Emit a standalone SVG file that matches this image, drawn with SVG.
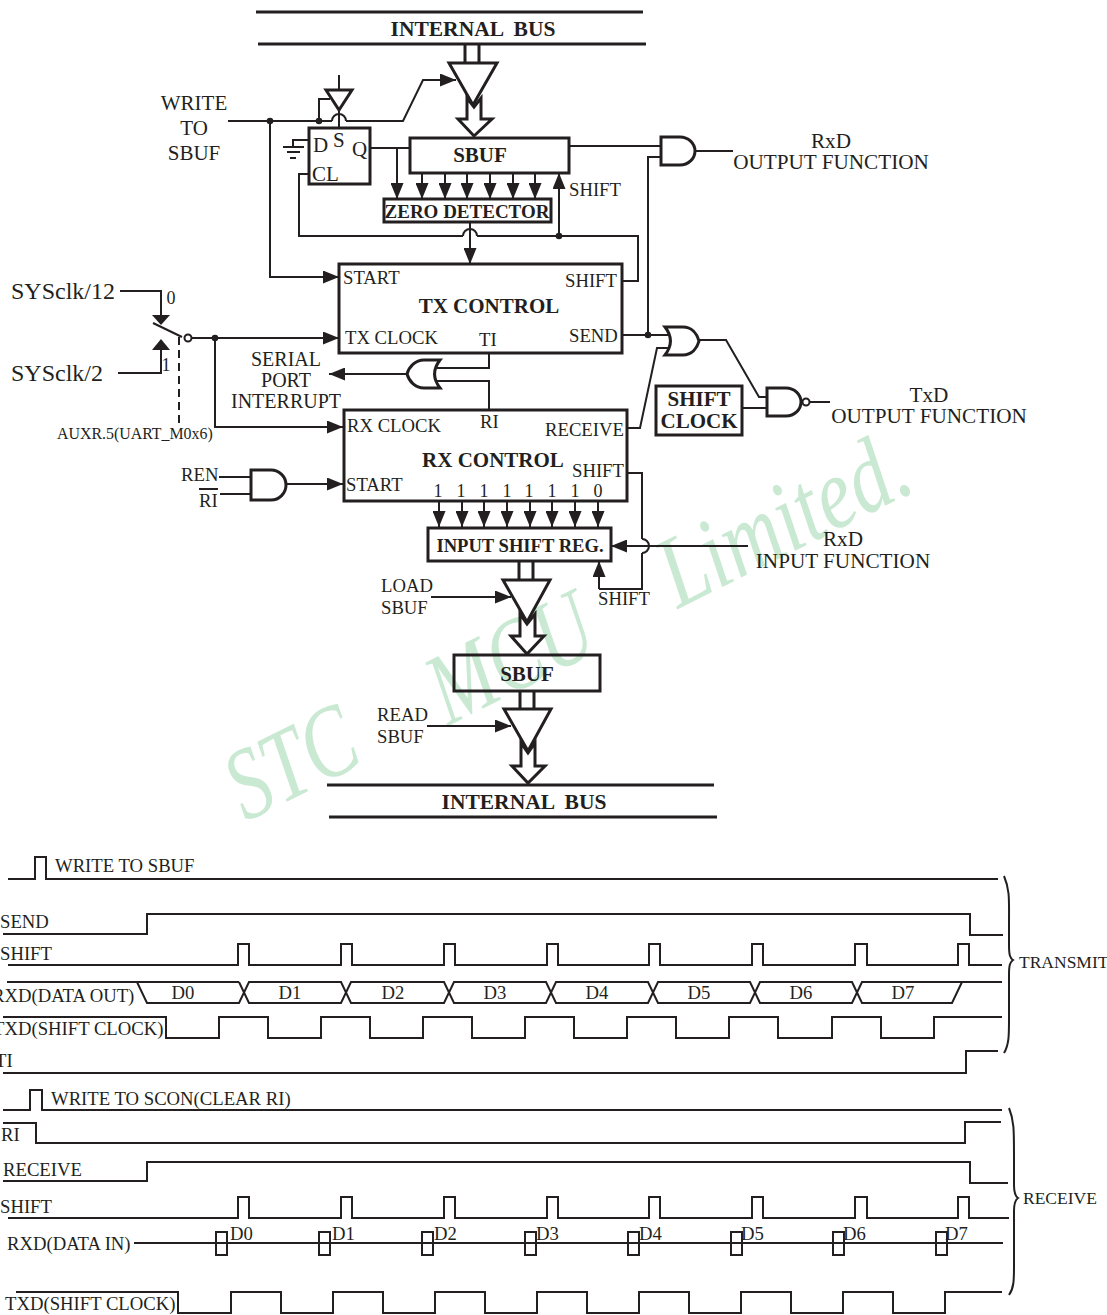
<svg xmlns="http://www.w3.org/2000/svg" width="1107" height="1315" viewBox="0 0 1107 1315">
<defs>
<marker id="a" markerUnits="userSpaceOnUse" markerWidth="17" markerHeight="13" refX="16" refY="6.5" orient="auto"><path d="M0 0L16 6.5L0 13Z" fill="#231f20"/></marker>
</defs>
<style>
text{font-family:"Liberation Serif","Times New Roman",serif;fill:#231f20;font-size:18.7px}
.b{font-weight:bold}
.m{text-anchor:middle}
.w{fill:none;stroke:#231f20;stroke-width:2}
.h{fill:none;stroke:#231f20;stroke-width:3}
.s{fill:#fff;stroke:#231f20;stroke-width:3}
.a{marker-end:url(#a)}
.d{fill:#231f20}
.wm{font-size:102px;font-style:italic;fill:#c9e9d2}
.n{font-size:18px}
.l{font-size:21.2px}
.bl{font-weight:bold;font-size:21px}
</style>
<rect width="1107" height="1315" fill="#fff"/>
<g id="watermark">
<text class="wm" transform="translate(246 822) rotate(-26.5)" textLength="134" lengthAdjust="spacingAndGlyphs">STC</text>
<text class="wm" transform="translate(448 726) rotate(-26.5)" textLength="172" lengthAdjust="spacingAndGlyphs">MCU</text>
<text class="wm" transform="translate(678 609) rotate(-26.5)" textLength="268" lengthAdjust="spacingAndGlyphs">Limited.</text>
</g>

<g id="connectors">
<path class="w" d="M228 121H332M346 121H403L423 80H433"/>
<path class="w a" d="M423 80H456"/>
<path class="w" d="M332 121A7 7 0 0 1 346 121"/>
<path class="w a" d="M270 121V277H339"/>
<path class="w" d="M319 121V99H330M339 75V89M339 110V128"/>
<path class="w" d="M309 140H293V147M283 147H304M287 152H300M290 158H296"/>
<path class="w" d="M370 148H410"/>
<path class="w a" d="M397 148V199"/>
<path class="w a" d="M422 173V199"/><path class="w a" d="M445 173V199"/><path class="w a" d="M467 173V199"/><path class="w a" d="M490 173V199"/><path class="w a" d="M513 173V199"/><path class="w a" d="M535 173V199"/>
<path class="w a" d="M559 236V173"/>
<path class="w" d="M309 174H299V236H463M477 236H638V281H622M463 236A7 7 0 0 1 477 236"/>
<path class="w a" d="M470 222V264"/>
<path class="w" d="M569 146H661M648 335V157H661M696 151H733"/>
<path class="w" d="M622 335H668M668 348H657L640 428H627M699 340H726L759 397H767M742 408H767M810 402H830"/>
<path class="w" d="M120 291H161V316"/>
<path class="d" d="M152 315H170L161 325Z"/>
<path class="w" d="M118 373H161V348"/>
<path class="d" d="M152 350H170L161 339Z"/>
<path class="w" d="M153 323L182 337"/>
<path class="w" d="M179 337V425" stroke-dasharray="8 5"/>
<path class="w a" d="M192 338H339"/>
<path class="w a" d="M215 338V427H343"/>
<path class="w" d="M489 353V368H437M489 410V381H437"/>
<path class="w a" d="M407 374H329"/>
<path class="w" d="M219 477H251M220 494H251M199 489H218"/>
<path class="w a" d="M286 484H343"/>
<path class="w a" d="M439 501V527"/><path class="w a" d="M462 501V527"/><path class="w a" d="M484 501V527"/><path class="w a" d="M507 501V527"/><path class="w a" d="M530 501V527"/><path class="w a" d="M552 501V527"/><path class="w a" d="M575 501V527"/><path class="w a" d="M598 501V527"/>
<path class="w" d="M627 473H642V539M642 553V589H599"/>
<path class="w" d="M642 539A7 7 0 0 1 642 553"/>
<path class="w a" d="M599 589V561"/>
<path class="w a" d="M748 546H611"/>
<path class="w a" d="M431 597H511"/>
<path class="w a" d="M427 726H511"/>
</g>

<g id="bus-top"><path class="h" d="M256 12H643M258 44H646"/><text class="b m" x="473" y="36" style="font-size:21.5px;white-space:pre" xml:space="preserve">INTERNAL  BUS</text></g>
<g id="buffer-top"><path class="h" d="M465 44V62M479 44V62"/><path class="s" d="M449 63H497L473 105Z"/><path class="s" d="M467 98L474 107L481 98V119H492L474 136L458 119H467Z"/></g>
<g id="inverter"><path class="h" d="M326 90H352L339 110Z" style="fill:#fff"/></g>
<g id="flipflop"><rect class="h" x="309" y="128" width="61" height="56" style="fill:#fff"/><text x="313" y="152" style="font-size:21px">D</text><text x="333" y="147" style="font-size:21px">S</text><text x="352" y="156" style="font-size:21px">Q</text><text x="312" y="181" style="font-size:21px">CL</text></g>
<g id="sbuf-tx"><rect class="h" x="410" y="138" width="159" height="35"/><text class="b m" x="480" y="162" style="font-size:21px">SBUF</text></g>
<g id="zero-detector"><rect class="h" x="384" y="199" width="167" height="23"/><text class="b m" x="467" y="218" style="font-size:19px">ZERO DETECTOR</text></g>
<text x="569" y="196">SHIFT</text>
<g id="tx-control"><rect class="h" x="339" y="264" width="283" height="89"/><text x="343" y="284">START</text><text x="565" y="287">SHIFT</text><text class="bl m" x="489" y="313">TX CONTROL</text><text x="345" y="344">TX CLOCK</text><text x="479" y="346">TI</text><text x="569" y="342">SEND</text></g>
<g id="write-label"><text class="m" x="194" y="110" style="font-size:21px">WRITE</text><text class="m" x="194" y="135" style="font-size:21px">TO</text><text class="m" x="194" y="160" style="font-size:21px">SBUF</text></g>
<g id="and-rxd"><path class="h" d="M661 137H680A15 14 0 0 1 680 165H661Z"/></g>
<g id="rxd-out"><text class="l m" x="831" y="148">RxD</text><text class="l m" x="831" y="169">OUTPUT FUNCTION</text></g>
<g id="or-tx"><path class="h" d="M665 327H683C692 327 697 334 699 341C697 348 692 355 683 355H665C672 346 672 336 665 327Z"/></g>
<g id="nand-tx"><path class="h" d="M767 388H786A15 14 0 0 1 786 416H767Z"/><circle class="h" cx="806" cy="402" r="3.5" style="stroke-width:2"/></g>
<g id="shift-clock"><rect class="h" x="656" y="386" width="86" height="49"/><text class="bl m" x="699" y="406">SHIFT</text><text class="bl m" x="699" y="428">CLOCK</text></g>
<g id="txd-out"><text class="l m" x="929" y="402">TxD</text><text class="l m" x="929" y="423">OUTPUT FUNCTION</text></g>
<g id="clock-mux"><text x="11" y="299" style="font-size:24px">SYSclk/12</text><text x="11" y="381" style="font-size:24px">SYSclk/2</text><text class="n m" x="171" y="304">0</text><text class="n m" x="166" y="371">1</text><circle cx="188" cy="338" r="3.5" class="w" style="fill:#fff"/><text x="57" y="439" style="font-size:15.9px">AUXR.5(UART_M0x6)</text></g>
<g id="dots"><circle class="d" cx="270" cy="121" r="3.3"/><circle class="d" cx="319" cy="121" r="3.3"/><circle class="d" cx="559" cy="236" r="3.3"/><circle class="d" cx="648" cy="335" r="3.3"/><circle class="d" cx="215" cy="338" r="3.3"/></g>
<g id="serial-int"><text class="m" x="286" y="366" style="font-size:20px">SERIAL</text><text class="m" x="286" y="387" style="font-size:20px">PORT</text><text class="m" x="286" y="408" style="font-size:20px">INTERRUPT</text></g>
<g id="or-int"><path class="h" d="M440 360H424C415 360 409 367 407 374C409 381 415 388 424 388H440C433 379 433 369 440 360Z"/></g>
<g id="rx-control"><rect class="h" x="344" y="410" width="283" height="91"/><text x="347" y="432">RX CLOCK</text><text x="480" y="428">RI</text><text x="545" y="436">RECEIVE</text><text class="bl m" x="493" y="467">RX CONTROL</text><text x="572" y="477">SHIFT</text><text x="346" y="491">START</text>
<text class="n m" x="438" y="497">1</text><text class="n m" x="461" y="497">1</text><text class="n m" x="484" y="497">1</text><text class="n m" x="507" y="497">1</text><text class="n m" x="529" y="497">1</text><text class="n m" x="552" y="497">1</text><text class="n m" x="575" y="497">1</text><text class="n m" x="598" y="497">0</text></g>
<g id="and-rx"><path class="h" d="M251 470H271A15 15 0 0 1 271 500H251Z"/><text x="181" y="481">REN</text><text x="199" y="507">RI</text></g>
<g id="input-shift"><rect class="h" x="428" y="528" width="183" height="33"/><text class="b m" x="520" y="552" style="font-size:18.6px">INPUT SHIFT REG.</text></g>
<g id="rxd-in"><text class="l m" x="843" y="546">RxD</text><text class="l m" x="843" y="568">INPUT FUNCTION</text></g>
<text x="598" y="605">SHIFT</text>
<g id="load"><text x="381" y="592">LOAD</text><text x="381" y="614">SBUF</text></g>
<g id="buffer-load"><path class="h" d="M519 561V580M533 561V580"/><path class="s" d="M503 580H550L527 622Z"/><path class="s" d="M520 614L527 624L535 614V636H544L527 654L511 636H520Z"/></g>
<g id="sbuf-rx"><rect class="h" x="454" y="655" width="146" height="36"/><text class="b m" x="527" y="681" style="font-size:21px">SBUF</text></g>
<g id="read"><text x="377" y="721">READ</text><text x="377" y="743">SBUF</text></g>
<g id="buffer-read"><path class="h" d="M520 691V709M534 691V709"/><path class="s" d="M504 709H551L528 751Z"/><path class="s" d="M521 743L528 753L535 743V766H545L528 783L512 766H521Z"/></g>
<g id="bus-bottom"><path class="h" d="M327 785H714M329 817H717"/><text class="b m" x="524" y="809" style="font-size:21.5px;white-space:pre" xml:space="preserve">INTERNAL  BUS</text></g>

<g id="timing-transmit">
<path class="w" d="M8 879H35V857H46V879H998"/>
<text x="55" y="872">WRITE TO SBUF</text>
<path class="w" d="M3 934H147V914H970V935H1003"/>
<text x="0" y="928">SEND</text>
<path class="w" d="M8 965H238V944H249V965H341V944H352V965H444V944H455V965H547V944H558V965H649V944H660V965H752V944H763V965H855V944H867V965H958V944H969V965H1002"/>
<text x="0" y="960">SHIFT</text>
<path class="w" d="M7 982H137L147 1003H239L249 982H341L351 1003H444L454 982H546L556 1003H648L658 982H750L760 1003H852L862 982H1002"/>
<path class="w" d="M239 982L249 1003H341L351 982H444L454 1003H546L556 982H648L658 1003H750L760 982H852L862 1003H952L962 982M137 982H239"/>
<text x="-8" y="1002">RXD(DATA OUT)</text>
<text class="m" x="183" y="999">D0</text><text class="m" x="290" y="999">D1</text><text class="m" x="393" y="999">D2</text><text class="m" x="495" y="999">D3</text><text class="m" x="597" y="999">D4</text><text class="m" x="699" y="999">D5</text><text class="m" x="801" y="999">D6</text><text class="m" x="903" y="999">D7</text>
<path class="w" d="M3 1017H166V1038H219V1017H268V1038H321V1017H370V1038H423V1017H472V1038H525V1017H574V1038H627V1017H676V1038H729V1017H778V1038H832V1017H881V1038H934V1017H1002"/>
<text x="-7" y="1035">TXD(SHIFT CLOCK)</text>
<path class="w" d="M3 1073H966V1051H998"/>
<text x="-5" y="1067">TI</text>
<path class="w" d="M1004 876C1010 890 1009 900 1009 925V945C1009 955 1010 958 1013 960C1010 962 1009 965 1009 975V1020C1009 1035 1009 1045 1004 1053"/>
<text x="1019" y="968" style="font-size:17.5px">TRANSMIT</text>
</g>

<g id="timing-receive">
<path class="w" d="M3 1110H30V1090H42V1110H1002"/>
<text x="51" y="1105">WRITE TO SCON(CLEAR RI)</text>
<path class="w" d="M3 1123H36V1143H965V1122H1001"/>
<text x="1" y="1141">RI</text>
<path class="w" d="M3 1181H147V1162H970V1183H1008"/>
<text x="3" y="1176">RECEIVE</text>
<path class="w" d="M8 1218H238V1197H249V1218H341V1197H352V1218H444V1197H455V1218H547V1197H558V1218H649V1197H660V1218H752V1197H763V1218H855V1197H867V1218H958V1197H969V1218H1009"/>
<text x="0" y="1213">SHIFT</text>
<text x="7" y="1250">RXD(DATA IN)</text>
<path class="w" d="M134 1243H1003"/>
<g class="w"><rect x="216" y="1232" width="11" height="23"/><rect x="319" y="1232" width="11" height="23"/><rect x="422" y="1232" width="11" height="23"/><rect x="525" y="1232" width="11" height="23"/><rect x="628" y="1232" width="11" height="23"/><rect x="731" y="1232" width="11" height="23"/><rect x="833" y="1232" width="11" height="23"/><rect x="936" y="1232" width="11" height="23"/></g>
<text x="230" y="1240">D0</text><text x="332" y="1240">D1</text><text x="434" y="1240">D2</text><text x="536" y="1240">D3</text><text x="639" y="1240">D4</text><text x="741" y="1240">D5</text><text x="843" y="1240">D6</text><text x="945" y="1240">D7</text>
<path class="w" d="M16 1292H178V1313H231V1292H281V1313H333V1292H383V1313H435V1292H485V1313H537V1292H587V1313H639V1292H689V1313H741V1292H791V1313H843V1292H893V1313H945V1292H1002"/>
<text x="5" y="1310">TXD(SHIFT CLOCK)</text>
<path class="w" d="M1009 1108C1014 1120 1014 1130 1014 1155V1185C1014 1193 1015 1196 1018 1198C1015 1200 1014 1203 1014 1211V1265C1014 1280 1014 1288 1009 1295"/>
<text x="1023" y="1204" style="font-size:17.5px">RECEIVE</text>
</g>
</svg>
